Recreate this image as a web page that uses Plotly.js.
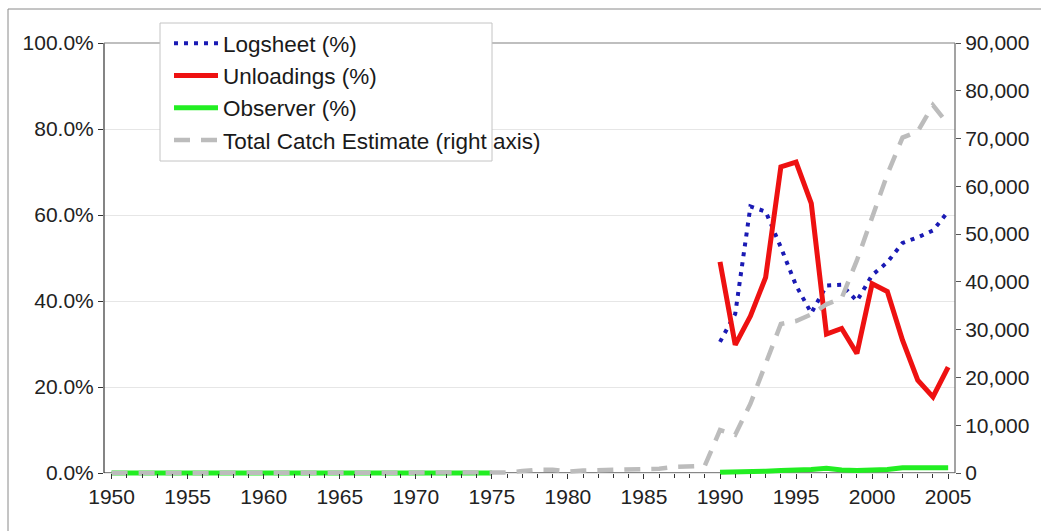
<!DOCTYPE html>
<html>
<head>
<meta charset="utf-8">
<script src="https://cdn.plot.ly/plotly-3.0.1.min.js"></script>
<style>html,body{margin:0;padding:0;background:#fff;}#chart{width:1041px;height:531px;}</style>
</head>
<body>
<div id="chart"></div>
<script>
// ---- data ----
var years = [];
for (var y = 1950; y <= 2005; y++) years.push(y);

var logYears = [1990,1991,1992,1993,1994,1995,1996,1997,1998,1999,2000,2001,2002,2003,2004,2005];
var logsheetPct = [30.5,37.0,62.0,60.8,52.5,43.6,37.2,43.6,43.8,40.0,46.0,49.0,53.5,54.8,56.4,60.8];
var unloadingsPct = [49.1,29.8,36.5,45.5,71.2,72.3,62.7,32.3,33.6,27.8,44.0,42.2,30.9,21.6,17.7,24.6];

var obsYears = [1950,1951,1952,1953,1954,1955,1956,1957,1958,1959,1960,1961,1962,1963,1964,1965,1966,1967,1968,1969,1970,1971,1972,1973,1974,1975,
                1990,1991,1992,1993,1994,1995,1996,1997,1998,1999,2000,2001,2002,2003,2004,2005];
var observerPct = [0,0,0,0,0,0,0,0,0,0,0,0,0,0,0,0,0,0,0,0,0,0,0,0,0,0,
                   0.2,0.2,0.2,0.4,0.6,0.6,0.8,1.1,0.7,0.6,0.6,0.8,1.2,1.2,1.2,1.2];
// gap between 1975 and 1990 (no observer values)
var obsX = obsYears.slice(0,26).concat([1982]).concat(obsYears.slice(26));
var obsY = observerPct.slice(0,26).concat([null]).concat(observerPct.slice(26));

var catchYears = years;
var totalCatch = [0,0,0,0,0,0,0,0,0,0,0,0,0,0,0,0,0,0,0,0,0,0,0,0,0,0,
                  100,400,700,700,300,500,600,600,700,700,900,1300,1300,1500,
                  9000,8000,14500,23000,31200,31800,33200,35300,36600,44500,53500,62500,70200,71500,77000,73000];

var pctTicks = [0,20,40,60,80,100];
var catchTicks = [0,10000,20000,30000,40000,50000,60000,70000,80000,90000];
var yearTicks = [1950,1955,1960,1965,1970,1975,1980,1985,1990,1995,2000,2005];

// ---- geometry (pixels) ----
var W = 1041, H = 531;
var L = 104, R = 86, T = 43;
var AXIS_Y = 473;          // pixel row of the value 0
var EXTRA = 6;             // room below 0 so baseline lines are not clipped
var B = H - AXIS_Y - EXTRA;
var PW = W - L - R, PH = H - T - B;
function px(x){ return (x - L) / PW; }
function py(y){ return (H - B - y) / PH; }
var pctPerPx = 100 / (AXIS_Y - T);
var pctMin = -EXTRA * pctPerPx;
var catchMin = pctMin * 900;

var FONT = 'Liberation Sans, Arial, sans-serif';

var traces = [
  {x: obsX, y: obsY, name: 'Observer (%)', type: 'scatter', mode: 'lines',
   line: {color: '#22ee22', width: 5}, legendrank: 3, legendgroup: 'c', connectgaps: false},
  {x: logYears, y: logsheetPct, name: 'Logsheet (%)', type: 'scatter', mode: 'lines',
   line: {color: '#1a1ab4', width: 4, dash: '4px,6px'}, legendrank: 1, legendgroup: 'a'},
  {x: logYears, y: unloadingsPct, name: 'Unloadings (%)', type: 'scatter', mode: 'lines',
   line: {color: '#ee1111', width: 5}, legendrank: 2, legendgroup: 'b'},
  {x: catchYears, y: totalCatch, name: 'Total Catch Estimate (right axis)', type: 'scatter', mode: 'lines',
   yaxis: 'y2', line: {color: '#bcbcbc', width: 4.5, dash: '16px,11px'}, legendrank: 4, legendgroup: 'd'}
];

var layout = {
  width: W, height: H,
  margin: {l: L, r: R, t: T, b: B, pad: 0},
  paper_bgcolor: '#ffffff', plot_bgcolor: '#ffffff',
  font: {family: FONT, size: 21, color: '#222'},
  showlegend: true,
  legend: {
    x: px(169), y: py(22), xanchor: 'left', yanchor: 'top',
    bgcolor: 'rgba(0,0,0,0)', borderwidth: 0,
    font: {family: FONT, size: 22.5, color: '#1a1a1a'},
    tracegroupgap: 1, itemwidth: 44, traceorder: 'normal'
  },
  xaxis: {
    range: [1949.5, 2005.45], tickvals: yearTicks, ticktext: yearTicks.map(String),
    anchor: 'free', position: py(AXIS_Y),
    ticks: 'outside', ticklen: 5, tickcolor: '#333', tickwidth: 1,
    minor: {dtick: 1, tick0: 1950, ticks: 'outside', ticklen: 4, tickcolor: '#333', showgrid: false},
    showline: false, showgrid: false, zeroline: false,
    tickfont: {family: FONT, size: 21, color: '#222'}, fixedrange: true
  },
  yaxis: {
    range: [pctMin, 100], tickvals: pctTicks, ticktext: pctTicks.map(function(v){return v.toFixed(1)+'%';}),
    ticks: 'outside', ticklen: 5, tickcolor: '#333',
    showline: false,
    showgrid: true, gridcolor: '#e6e6e6', gridwidth: 1, zeroline: false,
    tickfont: {family: FONT, size: 21, color: '#222'}, fixedrange: true
  },
  yaxis2: {
    overlaying: 'y', side: 'right', range: [catchMin, 90000],
    tickvals: catchTicks, ticktext: catchTicks.map(function(v){return v.toLocaleString('en-US');}),
    ticks: 'outside', ticklen: 5, tickcolor: '#555',
    showline: false, showgrid: false, zeroline: false,
    tickfont: {family: FONT, size: 21, color: '#222'}, fixedrange: true
  },
  shapes: [
    // outer frame
    {type: 'rect', xref: 'paper', yref: 'paper', x0: px(8), x1: px(1046), y0: py(540), y1: py(9),
     line: {color: '#8a8a8a', width: 1}, fillcolor: 'rgba(0,0,0,0)', layer: 'below'},
    // x axis line at value 0
    {type: 'line', xref: 'paper', yref: 'paper', x0: 0, x1: 1, y0: py(AXIS_Y), y1: py(AXIS_Y),
     line: {color: '#111', width: 1.2}, layer: 'below'},
    // left axis line
    {type: 'line', xref: 'paper', yref: 'paper', x0: 0, x1: 0, y0: py(AXIS_Y), y1: 1,
     line: {color: '#333', width: 1.2}, layer: 'above'},
    // right axis line
    {type: 'line', xref: 'paper', yref: 'paper', x0: 1, x1: 1, y0: py(AXIS_Y), y1: 1,
     line: {color: '#666', width: 1.2}, layer: 'above'},
    // top border of plot area
    {type: 'line', xref: 'paper', yref: 'paper', x0: 0, x1: 1, y0: 1, y1: 1,
     line: {color: '#808080', width: 1.2}, layer: 'above'},
    // legend box (text overflows it, as in the reference)
    {type: 'rect', xref: 'paper', yref: 'paper', x0: px(160), x1: px(492), y0: py(161), y1: py(23),
     line: {color: '#c4c4c4', width: 1}, fillcolor: '#ffffff', layer: 'above'}
  ]
};

Plotly.newPlot('chart', traces, layout, {staticPlot: true, displayModeBar: false});
</script>
</body>
</html>
